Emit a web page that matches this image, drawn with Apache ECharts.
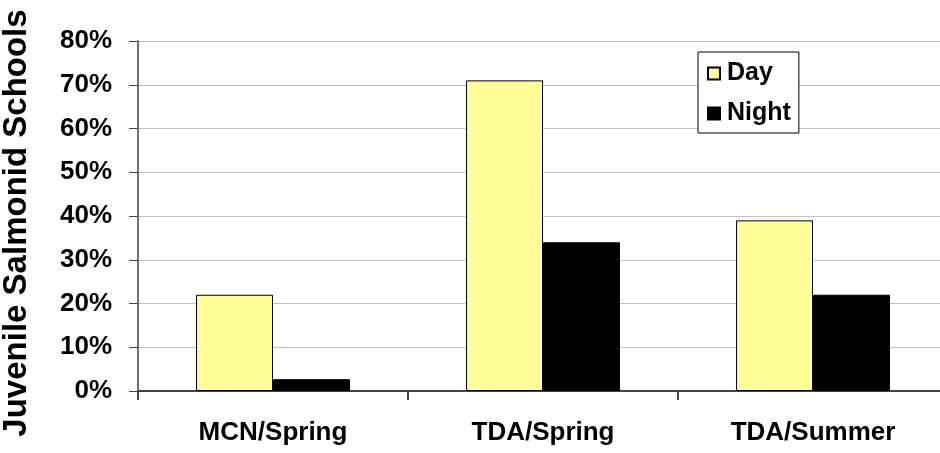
<!DOCTYPE html>
<html>
<head>
<meta charset="utf-8">
<script src="https://cdn.jsdelivr.net/npm/echarts@6/dist/echarts.min.js"></script>
<style>
html,body{margin:0;padding:0;background:#fff;}
#chart{width:940px;height:453px;}
</style>
</head>
<body>
<div id="chart"></div>
<script>
const categories = ['MCN/Spring', 'TDA/Spring', 'TDA/Summer'];
const dayValues = [22, 71, 39];
const nightValues = [2.7, 34, 22];
const yTicks = [0, 10, 20, 30, 40, 50, 60, 70, 80];
const yTitle = 'Juvenile Salmonid Schools';

const FONT = '"Liberation Sans", Arial, sans-serif';
const chart = echarts.init(document.getElementById('chart'), null, {renderer: 'canvas'});
chart.setOption({
  animation: false,
  backgroundColor: '#fff',
  textStyle: {fontFamily: FONT},
  grid: {left: 138, top: 41, bottom: 62, width: 810, containLabel: false, outerBoundsMode: 'none'},
  legend: {
    left: 698, top: 52,
    orient: 'vertical',
    backgroundColor: '#fff',
    borderColor: '#000', borderWidth: 1,
    padding: [9, 8, 7, 9],
    itemWidth: 12, itemHeight: 12, itemGap: 15,
    icon: 'rect',
    textStyle: {fontFamily: FONT, fontWeight: 'bold', fontSize: 25, color: '#000', padding: [0, 0, 0, 2]},
    data: ['Day', 'Night']
  },
  xAxis: {
    type: 'category',
    data: categories,
    axisLine: {lineStyle: {color: '#444', width: 2}},
    axisTick: {show: true, length: 9, lineStyle: {color: '#444', width: 2}},
    axisLabel: {fontFamily: FONT, fontWeight: 'bold', fontSize: 26, color: '#000', margin: 29}
  },
  yAxis: {
    type: 'value',
    min: yTicks[0], max: yTicks[yTicks.length - 1], interval: 10,
    name: yTitle,
    nameLocation: 'middle',
    nameGap: 105,
    nameTextStyle: {fontFamily: FONT, fontWeight: 'bold', fontSize: 33, color: '#000', padding: [0, 0, 0, -14]},
    axisLine: {show: true, lineStyle: {color: '#444', width: 1.5}},
    axisTick: {show: true, length: 9, lineStyle: {color: '#444'}},
    axisLabel: {fontFamily: FONT, fontWeight: 'bold', fontSize: 26, color: '#000', margin: 26,
      formatter: v => v + '%'},
    splitLine: {show: true, lineStyle: {color: '#c0c0c0', width: 1}}
  },
  series: [
    {
      name: 'Day', type: 'bar', data: dayValues,
      barGap: '0%', barCategoryGap: '43%',
      itemStyle: {color: '#FFFF99', borderColor: '#000', borderWidth: 1}
    },
    {
      name: 'Night', type: 'bar', data: nightValues,
      barGap: '0%', barCategoryGap: '43%',
      itemStyle: {color: '#000', borderColor: '#000', borderWidth: 1}
    }
  ]
});
</script>
</body>
</html>
